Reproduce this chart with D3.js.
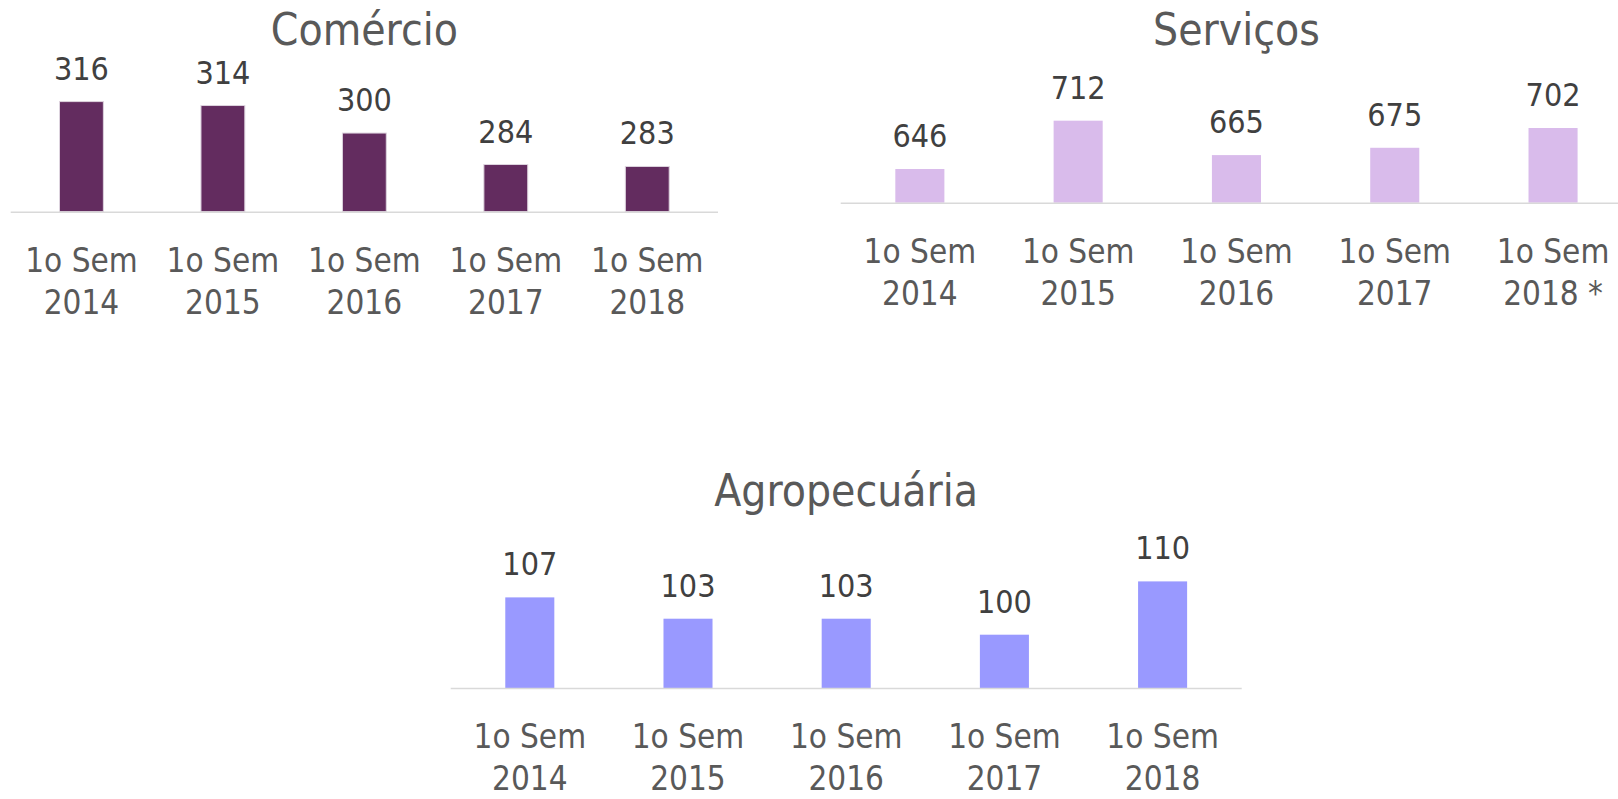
<!DOCTYPE html>
<html>
<head>
<meta charset="utf-8">
<script src="https://cdn.jsdelivr.net/npm/d3@7"></script>
<style>
  html, body { margin: 0; padding: 0; background: #ffffff; }
  svg { display: block; }
  text { font-family: "DejaVu Sans Condensed", "Liberation Sans", sans-serif; }
</style>
</head>
<body>
<svg id="chart" width="1618" height="799"></svg>
<script>
// Semester labels (two lines each)
const periodsTop = ["1o Sem", "1o Sem", "1o Sem", "1o Sem", "1o Sem"];
const periodsComercio = ["2014", "2015", "2016", "2017", "2018"];
const periodsServicos = ["2014", "2015", "2016", "2017", "2018 *"];
const periodsAgro = ["2014", "2015", "2016", "2017", "2018"];

// Values per sector
const comercio = [316, 314, 300, 284, 283];
const servicos = [646, 712, 665, 675, 702];
const agropecuaria = [107, 103, 103, 100, 110];

const svg = d3.select("#chart");

function panel(opts) {
  const g = svg.append("g");
  const keys = opts.values.map((d, i) => i);
  const x = d3.scaleBand()
    .domain(keys)
    .range([opts.x0, opts.x1])
    .paddingInner(0.69)
    .paddingOuter(0.345);
  const y = d3.scaleLinear()
    .domain(opts.domain)
    .range([opts.base, opts.top]);

  // title
  g.append("text")
    .attr("x", (opts.x0 + opts.x1) / 2)
    .attr("y", opts.titleY)
    .attr("text-anchor", "middle")
    .attr("font-size", 44)
    .attr("fill", "#595959")
    .text(opts.title);

  // bars
  g.selectAll("rect.bar")
    .data(opts.values)
    .join("rect")
    .attr("class", "bar")
    .attr("x", (d, i) => x(i))
    .attr("width", x.bandwidth())
    .attr("y", d => y(d))
    .attr("height", d => opts.base - y(d))
    .attr("fill", opts.color)
    .attr("stroke", opts.stroke || "none")
    .attr("stroke-width", opts.stroke ? 1 : 0);

  // baseline
  g.append("line")
    .attr("x1", opts.x0).attr("x2", opts.x1)
    .attr("y1", opts.base + 0.5).attr("y2", opts.base + 0.5)
    .attr("stroke", "#d9d9d9")
    .attr("stroke-width", 1.6);

  // value labels
  g.selectAll("text.val")
    .data(opts.values)
    .join("text")
    .attr("class", "val")
    .attr("x", (d, i) => x(i) + x.bandwidth() / 2)
    .attr("y", d => y(d) - 22)
    .attr("text-anchor", "middle")
    .attr("font-size", 32)
    .attr("fill", "#404040")
    .text(d => d);

  // category labels
  const cat = g.selectAll("text.cat")
    .data(keys)
    .join("text")
    .attr("class", "cat")
    .attr("text-anchor", "middle")
    .attr("font-size", 33)
    .attr("fill", "#595959");
  cat.append("tspan")
    .attr("x", i => x(i) + x.bandwidth() / 2)
    .attr("y", opts.base + 60)
    .text(i => periodsTop[i]);
  cat.append("tspan")
    .attr("x", i => x(i) + x.bandwidth() / 2)
    .attr("y", opts.base + 102)
    .text(i => opts.years[i]);
}

panel({
  title: "Comércio", values: comercio, years: periodsComercio,
  x0: 10.7, x1: 718, base: 211.7, top: 101, domain: [260, 316.3],
  titleY: 45, color: "#632c5f", stroke: "#ddd3de"
});

panel({
  title: "Serviços", values: servicos, years: periodsServicos,
  x0: 840.7, x1: 1632.2, base: 202.7, top: 128.3, domain: [600, 701.6],
  titleY: 45, color: "#d9bbeb"
});

panel({
  title: "Agropecuária", values: agropecuaria, years: periodsAgro,
  x0: 450.7, x1: 1241.7, base: 688, top: 581.4, domain: [90, 110],
  titleY: 506, color: "#9999ff"
});
</script>
</body>
</html>
